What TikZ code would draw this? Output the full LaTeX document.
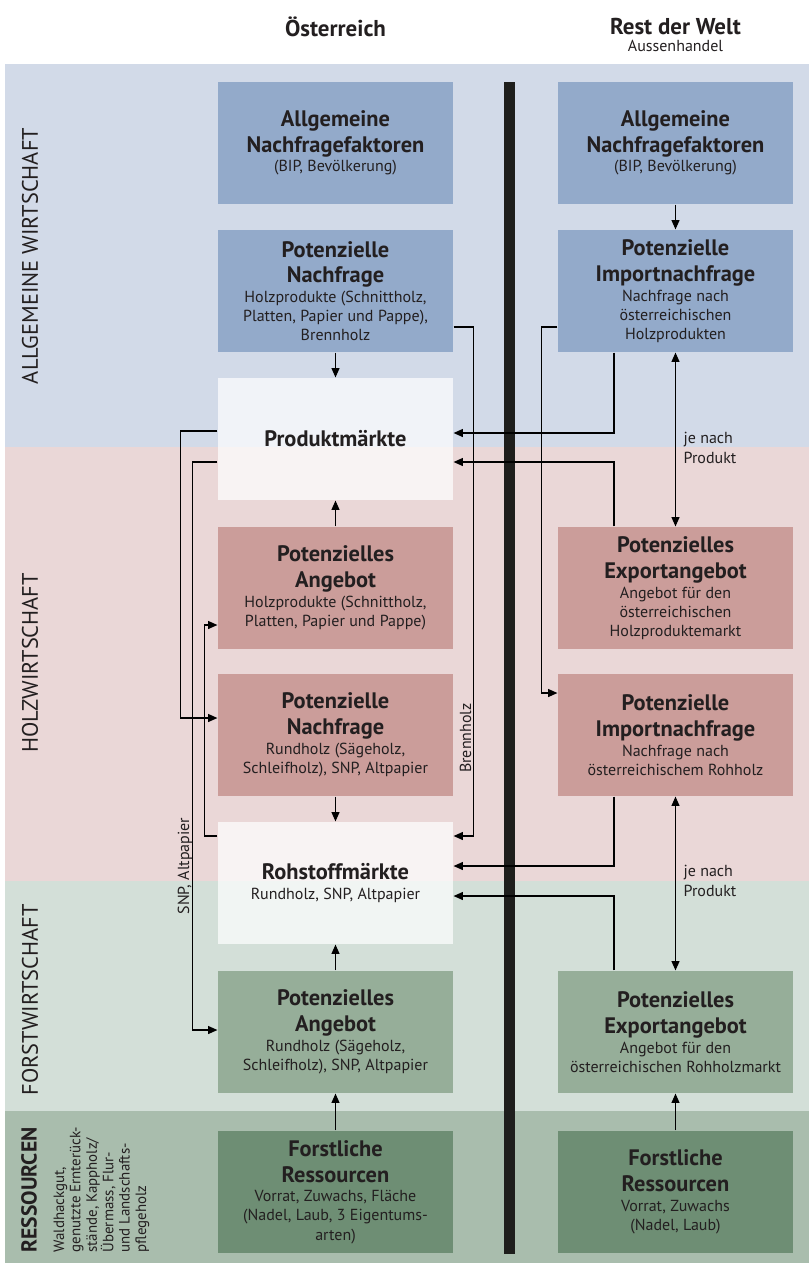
\documentclass[tikz,border=0pt]{standalone}
\usepackage{fontspec}
\setmainfont{PT Sans}
\usetikzlibrary{arrows.meta, calc, positioning}

\definecolor{txt}{HTML}{231F20}
\definecolor{bandblau}{HTML}{D2DAE8}
\definecolor{bandrot}{HTML}{EAD7D7}
\definecolor{bandgruen}{HTML}{D3DFD8}
\definecolor{bandforst}{HTML}{A9BDAD}
\definecolor{boxblau}{HTML}{93AACA}
\definecolor{boxrot}{HTML}{CB9D9A}
\definecolor{boxgruen}{HTML}{96AE99}
\definecolor{boxforst}{HTML}{6E8E74}
\definecolor{balken}{HTML}{1E1E1C}

% title + subtitle inside a box
\newcommand{\kasten}[2]{{\fontsize{16.8}{19.3}\selectfont\bfseries #1\par}\vspace{0.5pt}{\fontsize{12}{14.3}\selectfont #2\par}}

\begin{document}
\begin{tikzpicture}[x=0.75pt, y=-0.75pt, line width=0.9pt, text=txt,
  >={Triangle[length=7pt,width=6pt]},
  box/.style={minimum width=176.25pt, minimum height=91.5pt, text width=172pt,
    align=center, inner sep=0pt},
  blau/.style={box, fill=boxblau},
  rot/.style={box, fill=boxrot},
  gruen/.style={box, fill=boxgruen},
  forst/.style={box, fill=boxforst},
  markt/.style={box, fill=white, fill opacity=0.7, text opacity=1},
  kopf/.style={font=\fontsize{17.2}{20}\selectfont\bfseries},
  sektor/.style={rotate=90, font=\fontsize{16.8}{18}\selectfont},
  klein/.style={font=\fontsize{12}{15}\selectfont, inner sep=0pt}]
  \useasboundingbox (0,0) rectangle (809,1264);

  % background bands
  \fill[bandblau] (5,64) rectangle (809,447);
  \fill[bandrot] (5,447) rectangle (809,881);
  \fill[bandgruen] (5,881) rectangle (809,1111);
  \fill[bandforst] (5,1111) rectangle (809,1263);

  % headings
  \node[kopf] (hdAT) at (335.5,27) {Österreich};
  \node[kopf] (hdRW) at (675.5,27) {Rest der Welt};
  \node[klein] (hdAH) at (675.5,46) {Aussenhandel};

  % sector labels
  \node[sektor] (secAW) at (30,256) {ALLGEMEINE WIRTSCHAFT};
  \node[sektor] (secHW) at (30,663) {HOLZWIRTSCHAFT};
  \node[sektor] (secFW) at (30,1000) {FORSTWIRTSCHAFT};
  \node[sektor, font=\fontsize{16.2}{18}\selectfont\bfseries] (secRS) at (29,1190) {RESSOURCEN};
  \node[klein, rotate=90, anchor=north west, align=left,
    font=\fontsize{11.2}{12.3}\selectfont] (secRSd) at (53,1253)
    {Waldhackgut,\\genutzte Ernterück-\\stände, Kappholz/\\Übermass, Flur-\\und Landschafts-\\pflegeholz};

  % border between Austria and the rest of the world
  \fill[balken] (504,82) rectangle (515,1254);

  % Austria
  \node[blau] (nfAT) at (335.5,143) {\kasten{Allgemeine\\Nachfragefaktoren}{(BIP, Bevölkerung)}};
  \node[blau] (pnAT) at (335.5,291) {\kasten{Potenzielle\\Nachfrage}{Holzprodukte (Schnittholz,\\Platten, Papier und Pappe),\\Brennholz}};
  \node[markt] (pm) at (335.5,439) {\fontsize{16.8}{19.3}\selectfont\bfseries Produktmärkte};
  \node[rot] (paAT) at (335.5,588) {\kasten{Potenzielles\\Angebot}{Holzprodukte (Schnittholz,\\Platten, Papier und Pappe)}};
  \node[rot] (rnAT) at (335.5,735) {\kasten{Potenzielle\\Nachfrage}{Rundholz (Sägeholz,\\Schleifholz), SNP, Altpapier}};
  \node[markt] (rm) at (335.5,883) {\kasten{Rohstoffmärkte}{Rundholz, SNP, Altpapier}};
  \node[gruen] (raAT) at (335.5,1032) {\kasten{Potenzielles\\Angebot}{Rundholz (Sägeholz,\\Schleifholz), SNP, Altpapier}};
  \node[forst] (frAT) at (335.5,1192) {\kasten{Forstliche\\Ressourcen}{Vorrat, Zuwachs, Fläche\\(Nadel, Laub, 3 Eigentums-\\arten)}};

  % rest of the world
  \node[blau] (nfRW) at (675.5,143) {\kasten{Allgemeine\\Nachfragefaktoren}{(BIP, Bevölkerung)}};
  \node[blau] (inRW) at (675.5,291) {\kasten{Potenzielle\\Importnachfrage}{Nachfrage nach\\österreichischen\\Holzprodukten}};
  \node[rot] (eaRW) at (675.5,588) {\kasten{Potenzielles\\Exportangebot}{Angebot für den\\österreichischen\\Holzproduktemarkt}};
  \node[rot] (riRW) at (675.5,735) {\kasten{Potenzielle\\Importnachfrage}{Nachfrage nach\\österreichischem Rohholz}};
  \node[gruen] (reRW) at (675.5,1032) {\kasten{Potenzielles\\Exportangebot}{Angebot für den\\österreichischen Rohholzmarkt}};
  \node[forst] (frRW) at (675.5,1192) {\kasten{Forstliche\\Ressourcen}{Vorrat, Zuwachs\\(Nadel, Laub)}};

  % vertical flows within a column
  \draw[->] (pnAT) -- (pm);
  \draw[->] (paAT) -- (pm);
  \draw[->] (rnAT) -- (rm);
  \draw[->] (raAT) -- (rm);
  \draw[->] (frAT) -- (raAT);
  \draw[->] (nfRW) -- (inRW);
  \draw[->] (frRW) -- (reRW);
  \draw[<->] (inRW) -- (eaRW);
  \draw[<->] (riRW) -- (reRW);
  \node[klein, anchor=west, align=left] (jn1) at (683,448) {je nach\\Produkt};
  \node[klein, anchor=west, align=left] (jn2) at (683,881) {je nach\\Produkt};

  % trade flows into the markets
  \draw[->] ($(inRW.south)+(-61.5,0)$) |- ($(pm.east)+(0,-6)$);
  \draw[->] ($(eaRW.north)+(-61.5,0)$) |- ($(pm.east)+(0,23)$);
  \draw[->] ($(riRW.south)+(-61.5,0)$) |- ($(rm.east)+(0,-17)$);
  \draw[->] ($(reRW.north)+(-61.5,0)$) |- ($(rm.east)+(0,13)$);
  \draw[->] ($(inRW.west)+(0,36)$) -- ++(-16,0) |- ($(riRW.west)+(0,-42)$);

  % Brennholz
  \draw[->] ($(pnAT.east)+(0,36)$) -- ++(20,0) |- ($(rm.east)+(0,-47)$);
  \node[klein, rotate=90, anchor=base] (bh) at (471,738) {Brennholz};

  % links on the left
  \draw[->] ($(pm.west)+(0,-8)$) -- ++(-37,0) |- ($(rnAT.west)+(0,-17)$);
  \draw[->] ($(pm.west)+(0,23)$) -- ++(-25,0) |- ($(raAT.west)+(0,-2)$);
  \draw[->] ($(rm.west)+(0,-47)$) -- ++(-13,0) |- ($(paAT.west)+(0,37)$);
  \node[klein, rotate=90, anchor=base] (snp) at (189,866) {SNP, Altpapier};
\end{tikzpicture}
\end{document}
